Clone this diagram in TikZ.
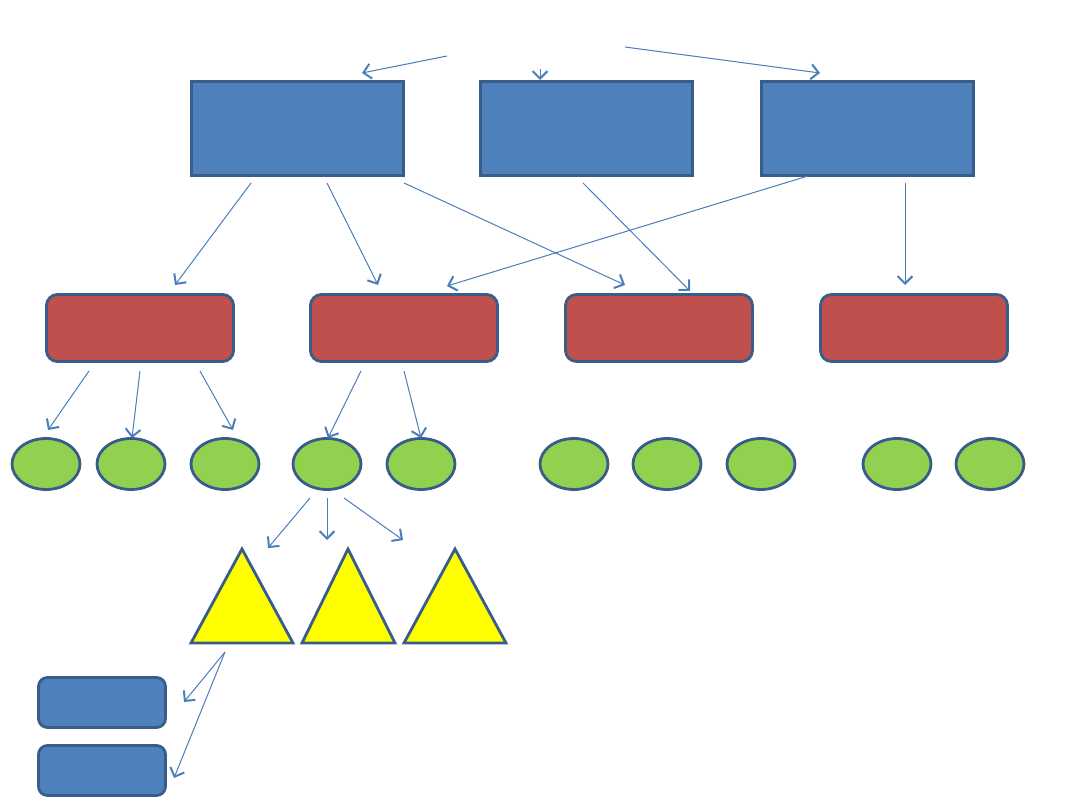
\documentclass[tikz,border=0pt]{standalone}
\usetikzlibrary{arrows.meta,shapes.geometric}
\definecolor{bluefill}{HTML}{4F81BD}
\definecolor{redfill}{HTML}{C0504D}
\definecolor{greenfill}{HTML}{92D050}
\definecolor{yellowfill}{HTML}{FFFF00}
\definecolor{edgecol}{HTML}{385D8A}
\definecolor{arrowcol}{HTML}{4A7EBB}
\tikzset{
  topbox/.style={draw=edgecol,fill=bluefill,line width=2.8pt,minimum width=212pt,minimum height=94pt,inner sep=0pt},
  redbox/.style={draw=edgecol,fill=redfill,line width=2.8pt,rounded corners=11pt,minimum width=187pt,minimum height=67pt,inner sep=0pt},
  smallbox/.style={draw=edgecol,fill=bluefill,line width=2.8pt,rounded corners=9pt,minimum width=127pt,minimum height=50pt,inner sep=0pt},
  leaf/.style={draw=edgecol,fill=greenfill,line width=2.8pt,ellipse,minimum width=68pt,minimum height=51pt,inner sep=0pt},
  tri/.style={draw=edgecol,fill=yellowfill,line width=2.8pt,line join=miter},
  link/.style={draw=arrowcol,line width=1pt,-{Straight Barb[length=7.5pt,width=15pt,line width=2pt]}}
}
\begin{document}
\begin{tikzpicture}[x=1pt,y=-1pt]
\useasboundingbox (0,0) rectangle (1080,810);
% top boxes
\node[topbox] (t1) at (297.5,128.5) {};
\node[topbox] (t2) at (586.5,128.5) {};
\node[topbox] (t3) at (867.5,128.5) {};
% red boxes
\node[redbox] (r1) at (140,328) {};
\node[redbox] (r2) at (404,328) {};
\node[redbox] (r3) at (659,328) {};
\node[redbox] (r4) at (914,328) {};
% green ellipses
\foreach \n/\x in {g1/46,g2/131,g3/225,g4/327,g5/421,g6/574,g7/667,g8/761,g9/897,g10/990}
  \node[leaf] (\n) at (\x,464) {};
% triangles
\draw[tri] (191,643) coordinate (y1a) -- (242,549) coordinate (y1) -- (293,643) -- cycle;
\draw[tri] (302,643) coordinate (y2a) -- (348,549) coordinate (y2) -- (395,643) -- cycle;
\draw[tri] (404,643) coordinate (y3a) -- (455,549) coordinate (y3) -- (506,643) -- cycle;
% small boxes
\node[smallbox] (s1) at (102,702.5) {};
\node[smallbox] (s2) at (102,770.5) {};
% arrow end points
\coordinate (a1s) at (447,56);   \coordinate (a1e) at (362,73);
\coordinate (a2s) at (540,69);   \coordinate (a2e) at (540,80);
\coordinate (a3s) at (625,47);   \coordinate (a3e) at (820,73);
\coordinate (a4s) at (251,183);  \coordinate (a4e) at (175,285);
\coordinate (a5s) at (327,183);  \coordinate (a5e) at (378,285);
\coordinate (a6s) at (404,183);  \coordinate (a6e) at (625,285);
\coordinate (a7s) at (583,183);  \coordinate (a7e) at (690,291);
\coordinate (a8s) at (808,176);  \coordinate (a8e) at (447,286);
\coordinate (a9s) at (905,183);  \coordinate (a9e) at (905,285);
\coordinate (b1s) at (89,371);   \coordinate (b1e) at (48,430);
\coordinate (b2s) at (140,371);  \coordinate (b2e) at (132,438);
\coordinate (b3s) at (200,371);  \coordinate (b3e) at (233,430);
\coordinate (b4s) at (361,371);  \coordinate (b4e) at (328,438);
\coordinate (b5s) at (404,371);  \coordinate (b5e) at (421,438);
\coordinate (c1s) at (310,498);  \coordinate (c1e) at (268,548);
\coordinate (c2s) at (327,498);  \coordinate (c2e) at (327,540);
\coordinate (c3s) at (344,498);  \coordinate (c3e) at (403,540);
\coordinate (d0) at (225,652);
\coordinate (d1e) at (184,702);  \coordinate (d2e) at (174,778);
% arrows
\foreach \s/\e in {a1s/a1e,a2s/a2e,a3s/a3e,a4s/a4e,a5s/a5e,a6s/a6e,a7s/a7e,a8s/a8e,a9s/a9e,
  b1s/b1e,b2s/b2e,b3s/b3e,b4s/b4e,b5s/b5e,c1s/c1e,c2s/c2e,c3s/c3e,d0/d1e,d0/d2e}
  \draw[link] (\s) -- (\e);
\end{tikzpicture}
\end{document}
